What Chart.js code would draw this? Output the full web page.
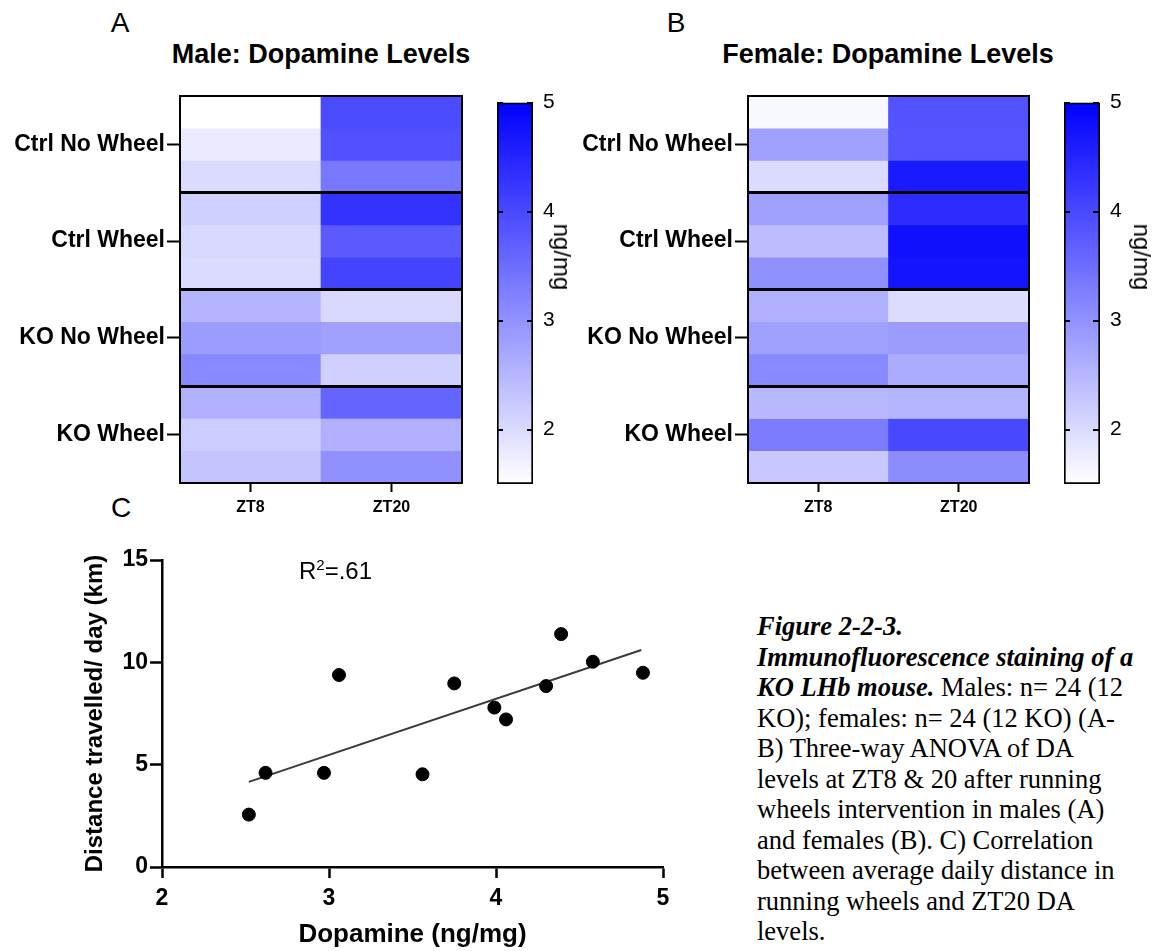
<!DOCTYPE html>
<html>
<head>
<meta charset="utf-8">
<title>Dopamine levels figure</title>
<script src="https://cdn.jsdelivr.net/npm/chart.js@4.4.1/dist/chart.umd.min.js"></script>
<style>
  body { margin: 0; background: #fff; width: 1162px; height: 951px; position: relative; overflow: hidden; font-family: 'Liberation Sans', Arial, sans-serif; color: #000; }
  canvas { position: absolute; }
  .lbl { position: absolute; transform: translate(-50%, -50%); white-space: nowrap; }
  .panel { font-size: 28px; line-height: 28px; }
  .title { font-size: 27px; line-height: 27px; font-weight: bold; }
  .unit { position: absolute; transform: translate(-50%, -50%) rotate(90deg); font-size: 24px; line-height: 24px; white-space: nowrap; }
  .r2 { position: absolute; left: 299px; top: 558px; font-size: 24px; line-height: 26px; white-space: nowrap; }
  .r2 sup { font-size: 15px; line-height: 0; vertical-align: 9px; }
  .cap { position: absolute; left: 757px; top: 611px; font-family: 'Liberation Serif', 'Times New Roman', serif; font-size: 26.5px; line-height: 30.5px; white-space: nowrap; }
</style>
</head>
<body>

<div class="lbl panel" style="left:120px; top:23px;">A</div>
<div class="lbl panel" style="left:676px; top:23px;">B</div>
<div class="lbl panel" style="left:121px; top:508px;">C</div>
<div class="lbl title" style="left:321px; top:54px;">Male: Dopamine Levels</div>
<div class="lbl title" style="left:888px; top:54px;">Female: Dopamine Levels</div>

<canvas id="heatA" width="466" height="440" style="left:0; top:80px;"></canvas>
<canvas id="barA" width="99" height="440" style="left:480px; top:80px;"></canvas>
<canvas id="heatB" width="465" height="440" style="left:568px; top:80px;"></canvas>
<canvas id="barB" width="112" height="440" style="left:1047px; top:80px;"></canvas>
<canvas id="scatterC" width="620" height="420" style="left:60px; top:530px;"></canvas>

<div class="unit" style="left:562px; top:257px;">ng/mg</div>
<div class="unit" style="left:1142px; top:257px;">ng/mg</div>

<div class="r2">R<sup>2</sup>=.61</div>

<div class="cap"><b><i>Figure 2-2-3.</i></b><br><b><i>Immunofluorescence staining of a</i></b><br><b><i>KO LHb mouse.</i></b> Males: n= 24 (12<br>KO); females: n= 24 (12 KO) (A-<br>B) Three-way ANOVA of DA<br>levels at ZT8 &amp; 20 after running<br>wheels intervention in males (A)<br>and females (B). C) Correlation<br>between average daily distance in<br>running wheels and ZT20 DA<br>levels.</div>

<script>
// ── data ──
const groups = ['Ctrl No Wheel', 'Ctrl Wheel', 'KO No Wheel', 'KO Wheel'];
const timepoints = ['ZT8', 'ZT20'];

// 12 animals per sex, 3 per group, top to bottom (ng/mg)
const maleZT8    = [1.50, 1.77, 2.00, 2.15, 2.04, 2.00, 2.53, 2.86, 3.13, 2.58, 2.20, 2.31];
const maleZT20   = [3.98, 3.90, 3.37, 4.30, 3.76, 4.07, 2.04, 2.80, 2.15, 3.63, 2.58, 3.02];
const femaleZT8  = [1.60, 2.80, 2.00, 2.80, 2.42, 3.02, 2.58, 2.80, 3.13, 2.47, 3.30, 2.25];
const femaleZT20 = [3.87, 3.83, 4.64, 4.40, 4.78, 4.72, 1.98, 2.86, 2.64, 2.53, 4.01, 3.08];

const colorMin = 1.5;
const colorMax = 5;
const colorTicks = [2, 3, 4, 5];

// panel C
const dopamine = [2.52, 2.62, 2.97, 3.06, 3.56, 3.75, 3.99, 4.06, 4.30, 4.39, 4.58, 4.88];
const distance = [2.56, 4.60, 4.60, 9.38, 4.53, 8.97, 7.79, 7.21, 8.84, 11.38, 10.03, 9.49];
const fitX = [2.52, 4.87];
const fitY = [4.16, 10.60];

Chart.defaults.font.family = "'Liberation Sans', Arial, sans-serif";
Chart.defaults.color = '#000';

const rowsPerGroup = 3;
const nRows = groups.length * rowsPerGroup;

// white -> blue, linear over the colour bar range
function shade(v) {
  let t = (v - colorMin) / (colorMax - colorMin);
  t = Math.max(0, Math.min(1, t));
  const c = Math.round(255 * (1 - t));
  return `rgb(${c},${c},255)`;
}

function heatmap(id, zt8, zt20) {
  const rows = zt8.map((v, i) => ({
    data: [1, 1],
    backgroundColor: [shade(v), shade(zt20[i])],
    borderWidth: 0,
    barPercentage: 1,
    categoryPercentage: 1,
  }));

  return new Chart(document.getElementById(id), {
    type: 'bar',
    data: { labels: timepoints, datasets: rows },
    options: {
      responsive: false,
      animation: false,
      layout: { padding: { top: 12, right: 4 } },
      plugins: { legend: { display: false }, tooltip: { enabled: false } },
      scales: {
        x: {
          stacked: true,
          grid: { offset: false, drawOnChartArea: false, tickLength: 9, tickWidth: 2, tickColor: '#000' },
          border: { color: '#000', width: 2, z: 1 },
          ticks: { padding: 6, font: { size: 16, weight: 'bold' } },
          afterFit: s => { s.height = 37; },
        },
        y: {
          stacked: true,
          reverse: true,
          min: 0,
          max: nRows,
          afterBuildTicks: s => { s.ticks = groups.map((g, i) => ({ value: i * rowsPerGroup + rowsPerGroup / 2 })); },
          ticks: { padding: 2, font: { size: 23, weight: 'bold' }, callback: (v, i) => groups[i] },
          grid: { drawOnChartArea: false, tickLength: 13, tickWidth: 2, tickColor: '#000' },
          border: { color: '#000', width: 2, z: 1 },
          afterFit: s => { s.width = 180; },
        },
        // group dividers + top/right frame
        y2: {
          position: 'right',
          min: 0,
          max: nRows,
          afterBuildTicks: s => {
            s.ticks = [];
            for (let i = 0; i <= groups.length; i++) s.ticks.push({ value: i * rowsPerGroup });
          },
          ticks: { display: false },
          grid: {
            drawTicks: false,
            color: '#000',
            z: 1,
            lineWidth: c => (c.tick && (c.tick.value === 0 || c.tick.value === nRows)) ? 2 : 3,
          },
          border: { color: '#000', width: 2, z: 1 },
          afterFit: s => { s.width = 0; },
        },
      },
    },
  });
}

function barGradient(chart) {
  if (!chart.chartArea) return shade(colorMax);
  const y = chart.scales.y;
  const g = chart.ctx.createLinearGradient(0, y.getPixelForValue(colorMin), 0, y.getPixelForValue(colorMax));
  g.addColorStop(0, shade(colorMin));
  g.addColorStop(1, shade(colorMax));
  return g;
}

function colorBar(id, axisWidth, dash) {
  return new Chart(document.getElementById(id), {
    type: 'bar',
    data: {
      labels: [''],
      datasets: [{
        data: [[colorMin, colorMax]],
        backgroundColor: c => barGradient(c.chart),
        borderColor: '#000',
        borderWidth: 2,
        borderSkipped: false,
        barPercentage: 1,
        categoryPercentage: 1,
      }],
    },
    options: {
      responsive: false,
      animation: false,
      layout: { padding: { top: 12, left: 17, bottom: 36 } },
      plugins: { legend: { display: false }, tooltip: { enabled: false } },
      scales: {
        x: { display: false },
        y: {
          position: 'right',
          min: colorMin,
          max: colorMax,
          afterBuildTicks: s => { s.ticks = colorTicks.map(v => ({ value: v })); },
          ticks: { padding: 10, font: { size: 21 } },
          grid: { drawTicks: false, color: '#000', lineWidth: 2, z: 1 },
          border: { display: false, dash: dash },
          afterFit: s => { s.width = axisWidth; },
        },
      },
    },
  });
}

heatmap('heatA', maleZT8, maleZT20);
heatmap('heatB', femaleZT8, femaleZT20);
colorBar('barA', 46, [6, 24]);
colorBar('barB', 59, [6, 23]);

new Chart(document.getElementById('scatterC'), {
  type: 'scatter',
  data: {
    datasets: [
      {
        data: dopamine.map((x, i) => ({ x, y: distance[i] })),
        backgroundColor: '#000',
        borderColor: '#000',
        pointRadius: 6.5,
        order: 0,
      },
      {
        data: fitX.map((x, i) => ({ x, y: fitY[i] })),
        showLine: true,
        borderColor: '#3a3a3a',
        borderWidth: 2,
        pointRadius: 0,
        order: 1,
      },
    ],
  },
  options: {
    responsive: false,
    animation: false,
    layout: { padding: { top: 30, right: 17 } },
    plugins: { legend: { display: false }, tooltip: { enabled: false } },
    scales: {
      x: {
        type: 'linear',
        min: 2,
        max: 5,
        ticks: { stepSize: 1, padding: 7, font: { size: 23, weight: 'bold' } },
        grid: { drawOnChartArea: false, tickLength: 11, tickWidth: 2.5, tickColor: '#000' },
        border: { color: '#000', width: 2.5 },
        title: { display: true, text: 'Dopamine (ng/mg)', font: { size: 26, weight: 'bold' }, padding: { top: 0, bottom: 0 } },
        afterFit: s => { s.height = 83; },
      },
      y: {
        min: 0,
        max: 15,
        ticks: { stepSize: 5, padding: 2, font: { size: 23, weight: 'bold' } },
        grid: { drawOnChartArea: false, tickLength: 12, tickWidth: 2.5, tickColor: '#000' },
        border: { color: '#000', width: 2.5 },
        title: { display: true, text: 'Distance travelled/ day (km)', font: { size: 24, weight: 'bold' }, padding: { top: 21, bottom: 0 } },
        afterFit: s => { s.width = 102; },
      },
    },
  },
});
</script>
</body>
</html>
